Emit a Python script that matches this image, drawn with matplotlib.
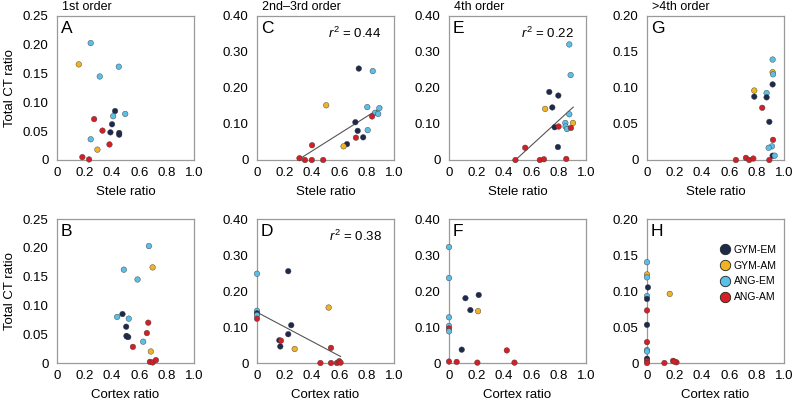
import numpy as np
import matplotlib
matplotlib.use("Agg")
import matplotlib.pyplot as plt
from matplotlib.lines import Line2D

plt.rcParams['font.family'] = ['Liberation Sans', 'DejaVu Sans']
plt.rcParams['mathtext.fontset'] = 'custom'
plt.rcParams['mathtext.rm'] = 'Liberation Sans'
plt.rcParams['mathtext.it'] = 'Liberation Sans:italic'

groups = ['GYM-EM', 'GYM-AM', 'ANG-EM', 'ANG-AM']
group_colors = ['#1d2a4e', '#f0b323', '#5bbfe8', '#d41f26']
# group codes: 0 GYM-EM, 1 GYM-AM, 2 ANG-EM, 3 ANG-AM

# A: 1st order, stele ratio
A_x = [0.246, 0.159, 0.451, 0.312, 0.424, 0.498, 0.41, 0.271, 0.402, 0.332, 0.39, 0.454, 0.454, 0.246, 0.383, 0.295, 0.185, 0.234]
A_y = [0.203, 0.166, 0.162, 0.145, 0.085, 0.080, 0.076, 0.071, 0.062, 0.051, 0.048, 0.047, 0.044, 0.036, 0.027, 0.018, 0.005, 0.001]
A_g = [2, 1, 2, 2, 0, 2, 2, 3, 0, 3, 0, 0, 0, 2, 3, 1, 3, 3]

# B: 1st order, cortex ratio
B_x = [0.671, 0.698, 0.488, 0.588, 0.478, 0.439, 0.524, 0.666, 0.505, 0.656, 0.507, 0.52, 0.51, 0.554, 0.629, 0.685, 0.678, 0.698, 0.722]
B_y = [0.203, 0.166, 0.162, 0.145, 0.085, 0.080, 0.077, 0.070, 0.063, 0.052, 0.047, 0.045, 0.046, 0.028, 0.037, 0.020, 0.002, 0.001, 0.005]
B_g = [2, 1, 2, 2, 0, 2, 2, 3, 0, 3, 0, 0, 0, 3, 2, 1, 3, 3, 3]

# C: 2nd-3rd order, stele ratio
C_x = [0.743, 0.845, 0.505, 0.805, 0.893, 0.862, 0.885, 0.84, 0.718, 0.808, 0.735, 0.722, 0.775, 0.657, 0.632, 0.402, 0.31, 0.35, 0.40, 0.483]
C_y = [0.254, 0.247, 0.152, 0.147, 0.144, 0.131, 0.128, 0.121, 0.105, 0.083, 0.081, 0.062, 0.063, 0.044, 0.038, 0.041, 0.005, 0.0, 0.0, 0.0]
C_g = [0, 2, 1, 2, 2, 2, 2, 3, 0, 2, 0, 3, 0, 0, 1, 3, 3, 3, 3, 3]
C_fit_x = [0.31, 0.91]
C_fit_y = [0.003, 0.147]
C_r2 = '0.44'

# D: 2nd-3rd order, cortex ratio
D_x = [0.0, 0.228, 0.523, 0.0, 0.0, 0.0, 0.0, 0.25, 0.228, 0.163, 0.175, 0.17, 0.275, 0.54, 0.463, 0.54, 0.583, 0.6, 0.61]
D_y = [0.248, 0.255, 0.154, 0.145, 0.138, 0.133, 0.123, 0.105, 0.080, 0.063, 0.062, 0.046, 0.039, 0.042, 0.0, 0.0, 0.0, 0.005, 0.001]
D_g = [2, 0, 1, 2, 0, 2, 3, 0, 0, 0, 3, 0, 1, 3, 3, 3, 3, 3, 3]
D_fit_x = [0.0, 0.61]
D_fit_y = [0.141, 0.018]
D_r2 = '0.38'

# E: 4th order, stele ratio
E_x = [0.878, 0.888, 0.732, 0.798, 0.754, 0.702, 0.878, 0.905, 0.849, 0.851, 0.861, 0.771, 0.80, 0.89, 0.795, 0.556, 0.485, 0.663, 0.693, 0.856]
E_y = [0.321, 0.236, 0.189, 0.179, 0.146, 0.142, 0.127, 0.103, 0.103, 0.093, 0.086, 0.091, 0.093, 0.089, 0.036, 0.034, 0.0, 0.0, 0.002, 0.003]
E_g = [2, 2, 0, 0, 0, 1, 2, 1, 2, 2, 2, 0, 3, 3, 0, 3, 3, 3, 3, 3]
E_fit_x = [0.485, 0.907]
E_fit_y = [0.0, 0.147]
E_r2 = '0.22'

# F: 4th order, cortex ratio
F_x = [0.0, 0.0, 0.217, 0.12, 0.156, 0.212, 0.0, 0.0, 0.0, 0.0, 0.093, 0.422, 0.0, 0.056, 0.207, 0.478]
F_y = [0.322, 0.236, 0.189, 0.180, 0.147, 0.144, 0.127, 0.103, 0.096, 0.088, 0.037, 0.035, 0.004, 0.003, 0.001, 0.001]
F_g = [2, 2, 0, 0, 0, 1, 2, 2, 3, 2, 0, 3, 3, 3, 3, 3]

# G: >4th order, stele ratio
G_x = [0.917, 0.917, 0.92, 0.917, 0.783, 0.873, 0.783, 0.873, 0.841, 0.893, 0.92, 0.912, 0.888, 0.917, 0.932, 0.649, 0.722, 0.746, 0.776, 0.893]
G_y = [0.1395, 0.122, 0.119, 0.105, 0.0965, 0.093, 0.088, 0.087, 0.0725, 0.053, 0.028, 0.019, 0.017, 0.006, 0.006, 0.0, 0.003, 0.0, 0.002, 0.0]
G_g = [2, 1, 2, 0, 1, 2, 0, 0, 3, 0, 3, 2, 2, 0, 2, 3, 3, 3, 3, 3]

# H: >4th order, cortex ratio
H_x = [0.0, 0.0, 0.0, 0.007, 0.166, 0.0, 0.0, 0.0, 0.0, 0.0, 0.0, 0.0, 0.0, 0.0, 0.0, 0.127, 0.19, 0.215, 0.2]
H_y = [0.140, 0.123, 0.119, 0.105, 0.096, 0.093, 0.089, 0.073, 0.053, 0.029, 0.018, 0.016, 0.006, 0.003, 0.0, 0.0, 0.003, 0.001, 0.002]
H_g = [2, 1, 2, 0, 1, 2, 0, 3, 0, 3, 2, 2, 0, 3, 3, 3, 3, 3, 3]

x_ticks = [0, 0.2, 0.4, 0.6, 0.8, 1.0]
x_ticklabels = ['0', '0.2', '0.4', '0.6', '0.8', '1.0']
y_ticks_25 = [0, 0.05, 0.10, 0.15, 0.20, 0.25]
y_labels_25 = ['0', '0.05', '0.10', '0.15', '0.20', '0.25']
y_ticks_40 = [0, 0.10, 0.20, 0.30, 0.40]
y_labels_40 = ['0', '0.10', '0.20', '0.30', '0.40']
y_ticks_20 = [0, 0.05, 0.10, 0.15, 0.20]
y_labels_20 = ['0', '0.05', '0.10', '0.15', '0.20']

titles = ['1st order', '2nd\u20133rd order', '4th order', '>4th order']

panels = [
    # letter, x, y, g, yticks, ylabels, fit_x, fit_y, r2
    [('A', A_x, A_y, A_g, y_ticks_25, y_labels_25, None, None, None),
     ('C', C_x, C_y, C_g, y_ticks_40, y_labels_40, C_fit_x, C_fit_y, C_r2),
     ('E', E_x, E_y, E_g, y_ticks_40, y_labels_40, E_fit_x, E_fit_y, E_r2),
     ('G', G_x, G_y, G_g, y_ticks_20, y_labels_20, None, None, None)],
    [('B', B_x, B_y, B_g, y_ticks_25, y_labels_25, None, None, None),
     ('D', D_x, D_y, D_g, y_ticks_40, y_labels_40, D_fit_x, D_fit_y, D_r2),
     ('F', F_x, F_y, F_g, y_ticks_40, y_labels_40, None, None, None),
     ('H', H_x, H_y, H_g, y_ticks_20, y_labels_20, None, None, None)],
]

W, H = 792, 405
fig = plt.figure(figsize=(W / 100, H / 100), dpi=100)

lefts = [57, 257, 449, 647]
tops = [16, 219]
aw, ah = 137, 144

spine_col = '#9a9a9a'

for r in range(2):
    for c in range(4):
        letter, xs, ys, gs, yt, yl, fx, fy, r2 = panels[r][c]
        ax = fig.add_axes([lefts[c] / W, 1 - (tops[r] + ah) / H, aw / W, ah / H])
        cols = [group_colors[g] for g in gs]
        ax.scatter(xs, ys, s=16, c=cols, edgecolors='#3a3a3a', linewidths=0.3,
                   zorder=3, clip_on=False)
        if fx is not None:
            ax.plot(fx, fy, color='#555555', lw=0.8, zorder=2)
            ax.text(0.91, 0.88, r'$r^2$ = ' + r2, transform=ax.transAxes,
                    ha='right', va='center', fontsize=9.5)
        ax.set_xlim(0, 1.0)
        ax.set_ylim(0, yt[-1])
        ax.set_xticks(x_ticks)
        ax.set_xticklabels(x_ticklabels)
        ax.set_yticks(yt)
        ax.set_yticklabels(yl)
        ax.tick_params(length=0, labelsize=9.5)
        ax.tick_params(axis='y', pad=6)
        ax.tick_params(axis='x', pad=5)
        for sp in ax.spines.values():
            sp.set_color(spine_col)
            sp.set_linewidth(0.9)
        ax.text(0.03, 0.965, letter, transform=ax.transAxes, ha='left', va='top',
                fontsize=12.5)
        if r == 0:
            ax.text(0.04, 1.02, titles[c], transform=ax.transAxes, ha='left',
                    va='bottom', fontsize=9)
            ax.set_xlabel('Stele ratio', fontsize=9.5, labelpad=5)
        else:
            ax.set_xlabel('Cortex ratio', fontsize=9.5, labelpad=5)
        if c == 0:
            ax.set_ylabel('Total CT ratio', fontsize=9.5, labelpad=5)
        if letter == 'H':
            handles = [Line2D([], [], ls='', marker='o', markersize=7.5,
                              markerfacecolor=col, markeredgecolor='#222222',
                              markeredgewidth=0.6) for col in group_colors]
            ax.legend(handles, groups, loc='upper left', bbox_to_anchor=(0.47, 0.87),
                      frameon=False, fontsize=7.5, handletextpad=0.25,
                      labelspacing=0.55, handlelength=1.2, borderpad=0.2)

fig.savefig('out.png', dpi=100)
